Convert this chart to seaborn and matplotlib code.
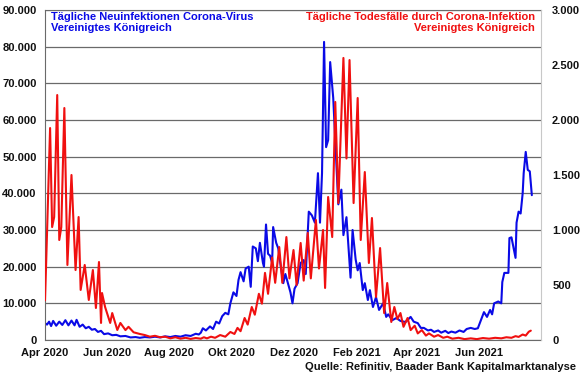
import matplotlib
matplotlib.use("Agg")
import matplotlib.pyplot as plt
import matplotlib.ticker as mticker
import numpy as np
import pandas as pd
import seaborn as sns

# ---------------- data ----------------
START = "2020-04-01"

# days since 2020-04-01 and daily new infections (UK)
cases_days = [0, 2, 4, 6, 8, 11, 14, 17, 20, 23, 26, 29, 31, 34, 37, 40, 43, 46, 49, 52,
              55, 58, 62, 66, 70, 74, 79, 84, 89, 93, 98, 103, 108, 113, 118, 123, 128, 133,
              138, 143, 148, 151, 153, 155, 158, 162, 165, 168, 171, 174, 177, 180, 182, 185,
              188, 190, 192, 195, 197, 200, 202, 204, 207, 209, 211, 214, 215, 217, 219, 221,
              223, 224, 227, 229, 231, 234, 236, 239, 241, 243, 245, 248, 251, 254, 256, 259,
              262, 265, 268, 270, 272, 274, 276, 278, 280, 283, 285, 288, 291, 293, 296, 300,
              302, 305, 307, 309, 312, 314, 317, 319, 322, 325, 328, 332, 335, 337, 341, 345,
              349, 354, 359, 362, 366, 369, 372, 376, 379, 382, 386, 389, 393, 396, 399, 403,
              407, 411, 414, 418, 422, 425, 428, 431, 434, 437, 439, 441, 445, 448, 449, 451,
              455, 456, 458, 462, 463, 465, 467, 469, 470, 472, 474, 476, 478]
cases = [4600, 4200, 5000, 3800, 5200, 3900, 5000, 4100, 5400, 4000, 5300, 4000, 5500, 3600,
         4200, 3200, 3600, 2800, 3000, 2200, 2500, 1600, 1800, 1300, 1400, 1000, 1100, 700,
         800, 600, 800, 700, 900, 700, 1000, 800, 1100, 900, 1300, 1100, 1700, 1500, 2000,
         3200, 2600, 3700, 3000, 5000, 4500, 6500, 7400, 7000, 10000, 13000, 12000, 16400,
         18500, 16000, 19500, 20000, 14500, 25500, 25000, 21500, 26500, 21000, 20000, 31500,
         23500, 23000, 21000, 30800, 26500, 25000, 21000, 15500, 18000, 15000, 13000, 10000,
         14000, 15500, 21000, 21800, 18000, 35000, 34000, 32000, 45500, 32000, 45500, 81300,
         52600, 54500, 75800, 66000, 54500, 37000, 41000, 28600, 33500, 17000, 30000, 22000,
         19000, 21000, 13600, 15500, 10900, 13600, 9000, 11700, 8200, 10000, 6300, 7000, 5400,
         6000, 5200, 4900, 6300, 5000, 4600, 3300, 3300, 2600, 2800, 2200, 2600, 2000, 2500,
         1900, 2300, 2000, 2600, 2200, 3000, 3300, 3000, 3200, 5400, 7600, 6300, 8200, 7000,
         10000, 10500, 10000, 15800, 18300, 18300, 27800, 28000, 22400, 32000, 35000, 34500,
         40000, 45500, 51300, 46400, 46000, 39500]

# days since 2020-04-01 and daily deaths (UK)
deaths_days = [0, 1, 5, 7, 9, 12, 14, 16, 19, 22, 26, 30, 33, 35, 39, 43, 47, 50, 53, 55,
               56, 59, 64, 66, 71, 74, 79, 82, 87, 93, 98, 103, 108, 113, 118, 123, 128, 133,
               138, 143, 148, 153, 156, 159, 163, 167, 172, 177, 182, 186, 189, 192, 196, 199,
               203, 206, 210, 213, 216, 219, 223, 226, 230, 233, 237, 240, 244, 247, 251, 254,
               258, 261, 266, 269, 273, 275, 278, 282, 285, 288, 293, 296, 299, 303, 307, 310,
               314, 318, 321, 325, 329, 333, 336, 340, 343, 346, 349, 352, 356, 359, 363, 366,
               370, 374, 377, 382, 386, 391, 395, 400, 406, 412, 418, 424, 430, 436, 442, 448,
               453, 458, 462, 465, 469, 472, 475, 477]
deaths = [360, 660, 1927, 1027, 1118, 2227, 909, 1027, 2109, 682, 1500, 636, 1118, 455, 682,
          364, 636, 291, 709, 155, 427, 300, 155, 245, 91, 155, 90, 120, 70, 55, 45, 30, 38,
          25, 30, 15, 25, 12, 20, 10, 18, 12, 25, 15, 30, 20, 45, 30, 73, 55, 110, 80, 200,
          140, 300, 230, 420, 330, 610, 420, 750, 520, 845, 520, 936, 560, 818, 500, 882, 540,
          973, 560, 1091, 650, 1000, 473, 1300, 936, 2164, 1245, 2564, 1650, 2545, 1245, 2200,
          909, 1527, 700, 1109, 391, 836, 245, 518, 164, 300, 190, 245, 120, 200, 90, 130, 60,
          90, 40, 60, 30, 45, 20, 30, 12, 20, 8, 15, 8, 18, 12, 20, 15, 25, 20, 35, 28, 50,
          40, 75, 85]

tick_dates = ["2020-04-01", "2020-06-01", "2020-08-01", "2020-10-01", "2020-12-01",
              "2021-02-01", "2021-04-01", "2021-06-01"]
tick_labels = ["Apr 2020", "Jun 2020", "Aug 2020", "Okt 2020", "Dez 2020",
               "Feb 2021", "Apr 2021", "Jun 2021"]
x_limits = ["2020-04-01", "2021-08-01"]

title_left = "Tägliche Neuinfektionen Corona-Virus\nVereinigtes Königreich"
title_right = "Tägliche Todesfälle durch Corona-Infektion\nVereinigtes Königreich"
source = "Quelle: Refinitiv, Baader Bank Kapitalmarktanalyse"

# ---------------- styling ----------------
sns.set_style("white")
plt.rcParams["font.family"] = ["Liberation Sans", "DejaVu Sans"]
plt.rcParams["font.weight"] = "bold"

BLUE = "#0a0ae6"
RED = "#f01010"
GRID = "#6a6a6a"

start = pd.Timestamp(START)
df_cases = pd.DataFrame({"date": start + pd.to_timedelta(cases_days, unit="D"), "value": cases})
df_deaths = pd.DataFrame({"date": start + pd.to_timedelta(deaths_days, unit="D"), "value": deaths})

fig = plt.figure(figsize=(5.8, 3.75), dpi=100)
ax = fig.add_axes([45 / 580, 35 / 375, (541 - 45) / 580, 330 / 375])
ax2 = ax.twinx()

sns.lineplot(data=df_cases, x="date", y="value", ax=ax, color=BLUE, linewidth=1.5,
             estimator=None, legend=False)
sns.lineplot(data=df_deaths, x="date", y="value", ax=ax2, color=RED, linewidth=1.5,
             estimator=None, legend=False)

ax.set_xlim(pd.Timestamp(x_limits[0]), pd.Timestamp(x_limits[1]))
ax.set_ylim(0, 90000)
ax2.set_ylim(0, 3000)
ax.set_yticks(np.arange(0, 90001, 10000))
ax2.set_yticks(np.arange(0, 3001, 500))

fmt = mticker.FuncFormatter(lambda v, p: f"{int(round(v)):,}".replace(",", "."))
ax.yaxis.set_major_formatter(fmt)
ax2.yaxis.set_major_formatter(fmt)

ax.set_xticks(pd.to_datetime(tick_dates))
ax.set_xticklabels(tick_labels)

ax.set_xlabel("")
ax.set_ylabel("")
ax2.set_ylabel("")

ax.yaxis.grid(True, color=GRID, linewidth=0.9)
ax.xaxis.grid(False)
ax.set_axisbelow(True)

for a in (ax, ax2):
    for s in a.spines.values():
        s.set_visible(False)
ax.spines["left"].set_visible(True)
ax.spines["left"].set_color(GRID)
ax.spines["bottom"].set_visible(True)
ax.spines["bottom"].set_color(GRID)
ax.spines["top"].set_visible(True)
ax.spines["top"].set_color(GRID)
ax2.spines["right"].set_visible(True)
ax2.spines["right"].set_color("#c8c8c8")

ax.tick_params(axis="y", length=0, pad=6, labelsize=8, labelcolor="#111111")
ax2.tick_params(axis="y", length=0, pad=8, labelsize=8, labelcolor="#111111")
ax.tick_params(axis="x", length=3.5, width=0.8, color=GRID, pad=2, labelsize=8,
               labelcolor="#111111", direction="out")
for lab in ax.get_xticklabels() + ax.get_yticklabels() + ax2.get_yticklabels():
    lab.set_fontweight("bold")

fig.text(51 / 580, 1 - 12 / 375, title_left, ha="left", va="top", color=BLUE,
         fontsize=8, fontweight="bold", linespacing=1.15)
fig.text(535 / 580, 1 - 12 / 375, title_right, ha="right", va="top", color=RED,
         fontsize=8, fontweight="bold", linespacing=1.15, multialignment="right")
fig.text(576 / 580, 1 - 370 / 375, source, ha="right", va="baseline", color="#111111",
         fontsize=8, fontweight="bold")

fig.savefig("out.png", dpi=100)
